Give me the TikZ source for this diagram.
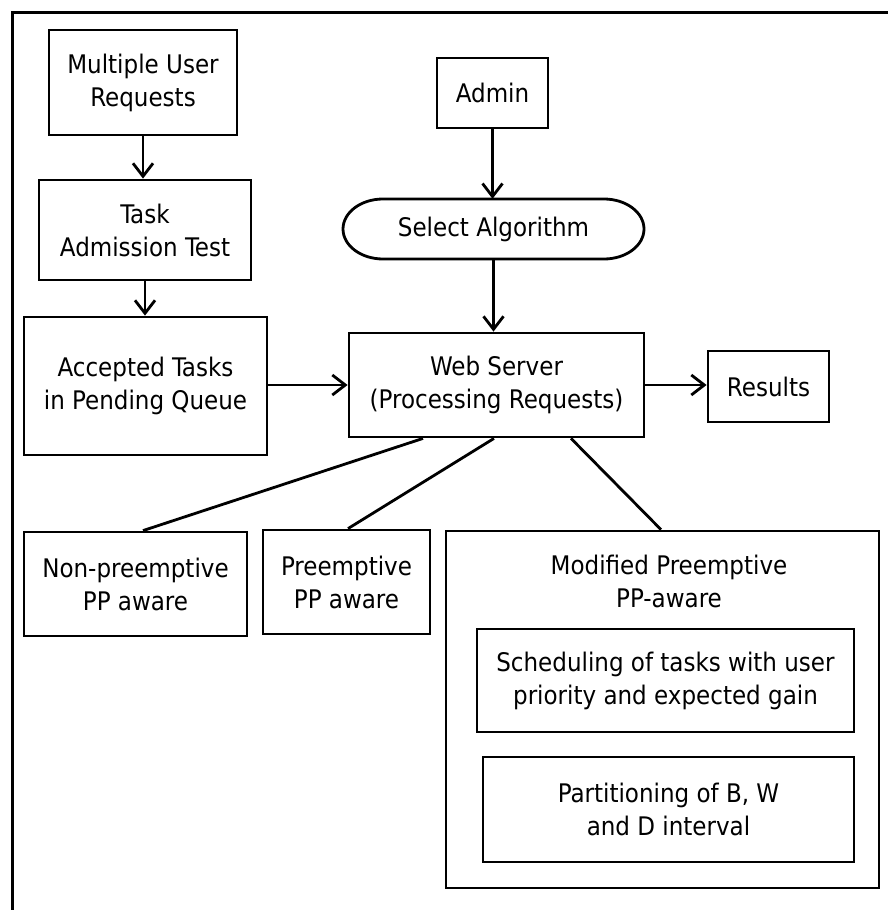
\documentclass[tikz,border=0pt]{standalone}
\usepackage{fontspec}
\setmainfont{DejaVu Sans Condensed}
\usetikzlibrary{arrows.meta,calc}
\tikzset{
  box/.style={draw, line width=2.8pt, align=center, inner sep=0pt,
    font=\fontsize{25.6}{33}\selectfont},
  txt/.style={align=center, inner sep=0pt, font=\fontsize{25.6}{33}\selectfont},
  arr/.style={line width=2.8pt, -{Straight Barb[length=13pt,width=20pt,line width=2.8pt]}},
  link/.style={line width=2.8pt},
  frame/.style={line width=3pt},
}
\begin{document}
\begin{tikzpicture}[x=1pt,y=-1pt]
\useasboundingbox (0,0) rectangle (888,910);
\fill[white] (0,0) rectangle (888,910);
% outer frame (only top and left visible)
\draw[frame] (12,915) -- (12,12) -- (893,12);

\node[box, minimum width=188pt, minimum height=105pt] (mur) at (143,82.5) {Multiple User\\Requests};
\node[box, minimum width=212pt, minimum height=100pt] (tat) at (145,230) {Task\\Admission Test};
\node[box, minimum width=243pt, minimum height=138pt] (atq) at (145.5,386) {Accepted Tasks\\in Pending Queue};
\node[box, minimum width=111pt, minimum height=70pt] (admin) at (492.5,93) {Admin};
\node[txt, minimum width=301pt, minimum height=60pt] (sel) at (493.5,229) {Select Algorithm};
\draw[link] (383,199) -- (604,199) arc[start angle=-90, end angle=90, x radius=40, y radius=30]
  -- (383,259) arc[start angle=90, end angle=270, x radius=40, y radius=30] -- cycle;
\node[box, minimum width=295pt, minimum height=104pt] (ws) at (496.5,385) {Web Server\\(Processing Requests)};
\node[box, minimum width=121pt, minimum height=71pt] (res) at (768.5,386.5) {Results};
\node[box, minimum width=223pt, minimum height=104pt] (np) at (135.5,584) {Non-preemptive\\PP aware};
\node[box, minimum width=167pt, minimum height=104pt] (pre) at (346.5,582) {Preemptive\\PP aware};
\node[box, minimum width=433pt, minimum height=357pt] (mod) at (662.5,709.5) {};
\node[txt] (modt) at (669,581.5) {Modified Preemptive\\PP-aware};
\node[box, minimum width=377pt, minimum height=103pt] (sch) at (665.5,680.5) {Scheduling of tasks with user\\priority and expected gain};
\node[box, minimum width=371pt, minimum height=105pt] (part) at (668.5,809.5) {Partitioning of B, W\\and D interval};

\draw[arr] (mur.south) -- (mur.south |- tat.north);
\draw[arr] (tat.south) -- (tat.south |- atq.north);
\draw[arr] (admin.south) -- (admin.south |- sel.north);
\draw[arr] (sel.south) -- (sel.south |- ws.north);
\draw[arr] (atq.east |- ws.east) -- (ws.west |- ws.east);
\draw[arr] (ws.east) -- (res.west |- ws.east);
\draw[link] ([xshift=-73.5pt]ws.south) -- ([xshift=7.5pt]np.north);
\draw[link] ([xshift=-2.5pt]ws.south) -- ([xshift=1.5pt]pre.north);
\draw[link] ([xshift=74.5pt]ws.south) -- ([xshift=-1.5pt]mod.north);
\end{tikzpicture}
\end{document}
